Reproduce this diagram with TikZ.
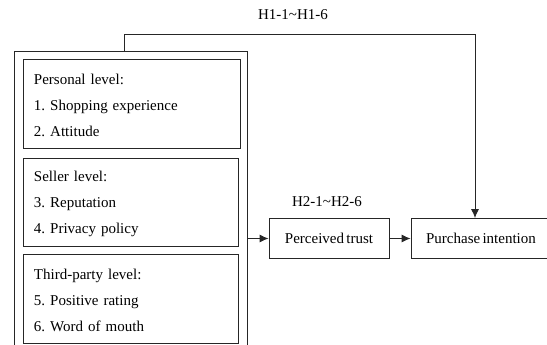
\documentclass[tikz,border=0pt]{standalone}
\usepackage{fontspec}
\setmainfont[WordSpace=0.6]{Liberation Serif}
\usetikzlibrary{arrows.meta,positioning}

\tikzset{
  levelbox/.style={draw=black!85, line width=0.9pt, inner xsep=11pt, inner ysep=0pt,
    align=left, font=\fontsize{15}{26}\selectfont},
  varbox/.style={draw=black!85, line width=0.9pt, minimum height=40pt, inner sep=0pt,
    font=\fontsize{15}{18}\selectfont},
  hyp/.style={font=\fontsize{15}{18}\selectfont},
  link/.style={draw=black!85, line width=0.9pt, -{Latex[length=9pt,width=8pt]}}
}
\newcommand{\topstrut}{\rule{0pt}{14.5pt}}
\frenchspacing

\begin{document}
\begin{tikzpicture}[x=1pt,y=-1pt]
    \useasboundingbox (0,0) rectangle (547,345);
    \clip (0,0) rectangle (547,345);

    % outer frame of the three levels (open at the bottom)
    \draw[draw=black!85, line width=0.9pt] (14.5,360) -- (14.5,51) -- (247,51) -- (247,360);
    \coordinate (frametop) at (124.7,51);
    \coordinate (frameright) at (247,238.5);

    % the three levels
    \node[levelbox, text width=195pt, minimum height=89pt] (personal) at (131.5,103.5)
      {\topstrut Personal level:\\1. Shopping experience\\2. Attitude};
    \node[levelbox, text width=193pt, minimum height=88pt] (seller) at (130.5,202)
      {\topstrut Seller level:\\3. Reputation\\4. Privacy policy};
    \node[levelbox, text width=193pt, minimum height=89pt] (thirdparty) at (130.5,298.5)
      {\topstrut Third-party level:\\5. Positive rating\\6. Word of mouth};

    % mediator and outcome
    \node[varbox, minimum width=120pt] (trust) at (329,238.5) {Perceived trust};
    \node[varbox, minimum width=140pt] (intention) at (481,238.5) {Purchase intention};

    % hypotheses
    \coordinate (corner) at (475,34.5);
    \draw[link] (frametop) |- (corner) -- (corner |- intention.north);
    \node[hyp] (h1) at (293,15) {H1-1\textasciitilde H1-6};

    \draw[link] (frameright) -- (trust.west);
    \draw[link] (trust.east) -- (intention.west);
    \node[hyp] (h2) at (327,202) {H2-1\textasciitilde H2-6};
\end{tikzpicture}
\end{document}
